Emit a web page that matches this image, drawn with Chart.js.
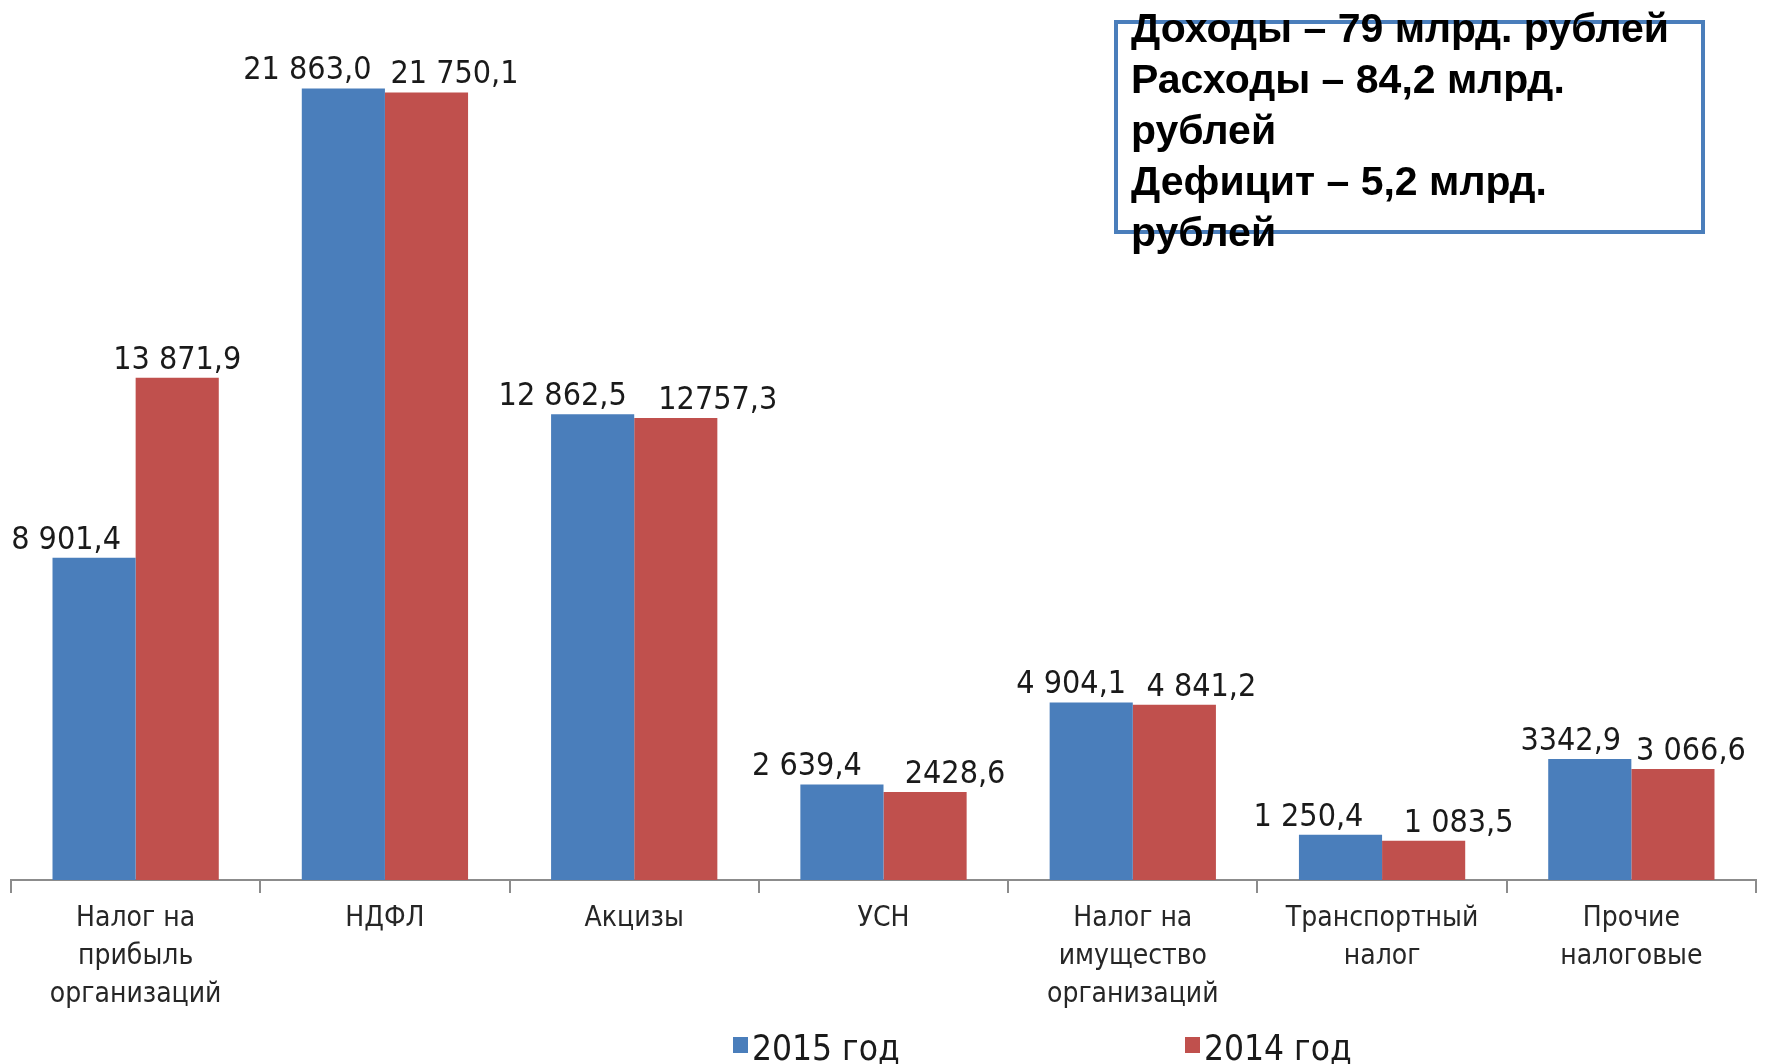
<!DOCTYPE html>
<html>
<head>
<meta charset="utf-8">
<script src="https://cdn.jsdelivr.net/npm/chart.js"></script>
<style>
  body { margin: 0; background: #fff; }
  #wrap { position: relative; width: 1765px; height: 1064px; overflow: hidden; }
  #box {
    position: absolute; left: 1114px; top: 20px; width: 591px; height: 214px;
    box-sizing: border-box; border: 4px solid #4a7ebb;
  }
  #boxText {
    position: absolute; left: 1131px; top: 3px; white-space: nowrap;
    font: bold 41px 'Liberation Sans', Arial, sans-serif; line-height: 51px; color: #000;
  }
</style>
</head>
<body>
<div id="wrap">
  <canvas id="taxChart" width="1765" height="1064"></canvas>
  <div id="box"></div>
  <div id="boxText">Доходы – 79 млрд. рублей<br>Расходы – 84,2 млрд.<br>рублей<br>Дефицит – 5,2 млрд.<br>рублей</div>
</div>
<script>
const categories = [
    ['Налог на', 'прибыль', 'организаций'],
    ['НДФЛ'],
    ['Акцизы'],
    ['УСН'],
    ['Налог на', 'имущество', 'организаций'],
    ['Транспортный', 'налог'],
    ['Прочие', 'налоговые']
];
const values2015 = [8901.4, 21863.0, 12862.5, 2639.4, 4904.1, 1250.4, 3342.9];
const values2014 = [13871.9, 21750.1, 12757.3, 2428.6, 4841.2, 1083.5, 3066.6];
const labels2015 = ['8 901,4', '21 863,0', '12 862,5', '2 639,4', '4 904,1', '1 250,4', '3342,9'];
const labels2014 = ['13 871,9', '21 750,1', '12757,3', '2428,6', '4 841,2', '1 083,5', '3 066,6'];
const seriesNames = ['2015 год', '2014 год'];

const labelFont = "32px 'DejaVu Sans Condensed', 'DejaVu Sans', sans-serif";

// value labels above bars, nudged sideways like the original
const valueLabels = {
    id: 'valueLabels',
    afterDatasetsDraw(chart, args, opts) {
        const ctx = chart.ctx;
        ctx.save();
        ctx.font = labelFont;
        ctx.fillStyle = '#1a1a1a';
        ctx.textAlign = 'center';
        ctx.textBaseline = 'alphabetic';
        chart.data.datasets.forEach((ds, di) => {
            const meta = chart.getDatasetMeta(di);
            meta.data.forEach((bar, i) => {
                const dx = opts.shift[di][i];
                ctx.fillText(ds.valueText[i], bar.x + dx, bar.y - 9);
            });
        });
        ctx.restore();
    }
};

// legend at the bottom
const bottomLegend = {
    id: 'bottomLegend',
    afterDraw(chart, args, opts) {
        const ctx = chart.ctx;
        ctx.save();
        ctx.font = "35px 'DejaVu Sans Condensed', 'DejaVu Sans', sans-serif";
        ctx.textBaseline = 'alphabetic';
        chart.data.datasets.forEach((ds, di) => {
            const x = opts.xs[di];
            ctx.fillStyle = ds.backgroundColor;
            ctx.fillRect(x, 1037, 15, 16);
            ctx.fillStyle = '#1a1a1a';
            ctx.fillText(ds.label, x + 19, 1060);
        });
        ctx.restore();
    }
};

const ctx = document.getElementById('taxChart').getContext('2d');
const taxChart = new Chart(ctx, {
    type: 'bar',
    data: {
        labels: categories,
        datasets: [{
            label: seriesNames[0],
            data: values2015,
            valueText: labels2015,
            backgroundColor: '#4a7ebb',
            categoryPercentage: 0.667,
            barPercentage: 1.0
        }, {
            label: seriesNames[1],
            data: values2014,
            valueText: labels2014,
            backgroundColor: '#c0504d',
            categoryPercentage: 0.667,
            barPercentage: 1.0
        }]
    },
    options: {
        responsive: false,
        animation: false,
        layout: { padding: { top: 11, left: 11, right: 9, bottom: 0 } },
        plugins: {
            legend: { display: false },
            tooltip: { enabled: false },
            valueLabels: {
                shift: [
                    [-28, -36, -30, -35, -20, -32, -19],
                    [0, 28, 42, 30, 27, 35, 18]
                ]
            },
            bottomLegend: { xs: [733, 1185] }
        },
        scales: {
            x: {
                grid: {
                    offset: true,
                    drawOnChartArea: false,
                    drawTicks: true,
                    tickLength: 13,
                    color: '#8c8c8c',
                    lineWidth: 2
                },
                border: { display: true, color: '#8c8c8c', width: 2 },
                ticks: {
                    color: '#262626',
                    padding: 7,
                    maxRotation: 0,
                    autoSkip: false,
                    font: { family: "'DejaVu Sans Condensed', 'DejaVu Sans', sans-serif", size: 28, lineHeight: 1.35 }
                },
                afterFit(scale) { scale.height = 184; }
            },
            y: {
                display: false,
                min: 0,
                max: 24000
            }
        }
    },
    plugins: [valueLabels, bottomLegend]
});
</script>
</body>
</html>
